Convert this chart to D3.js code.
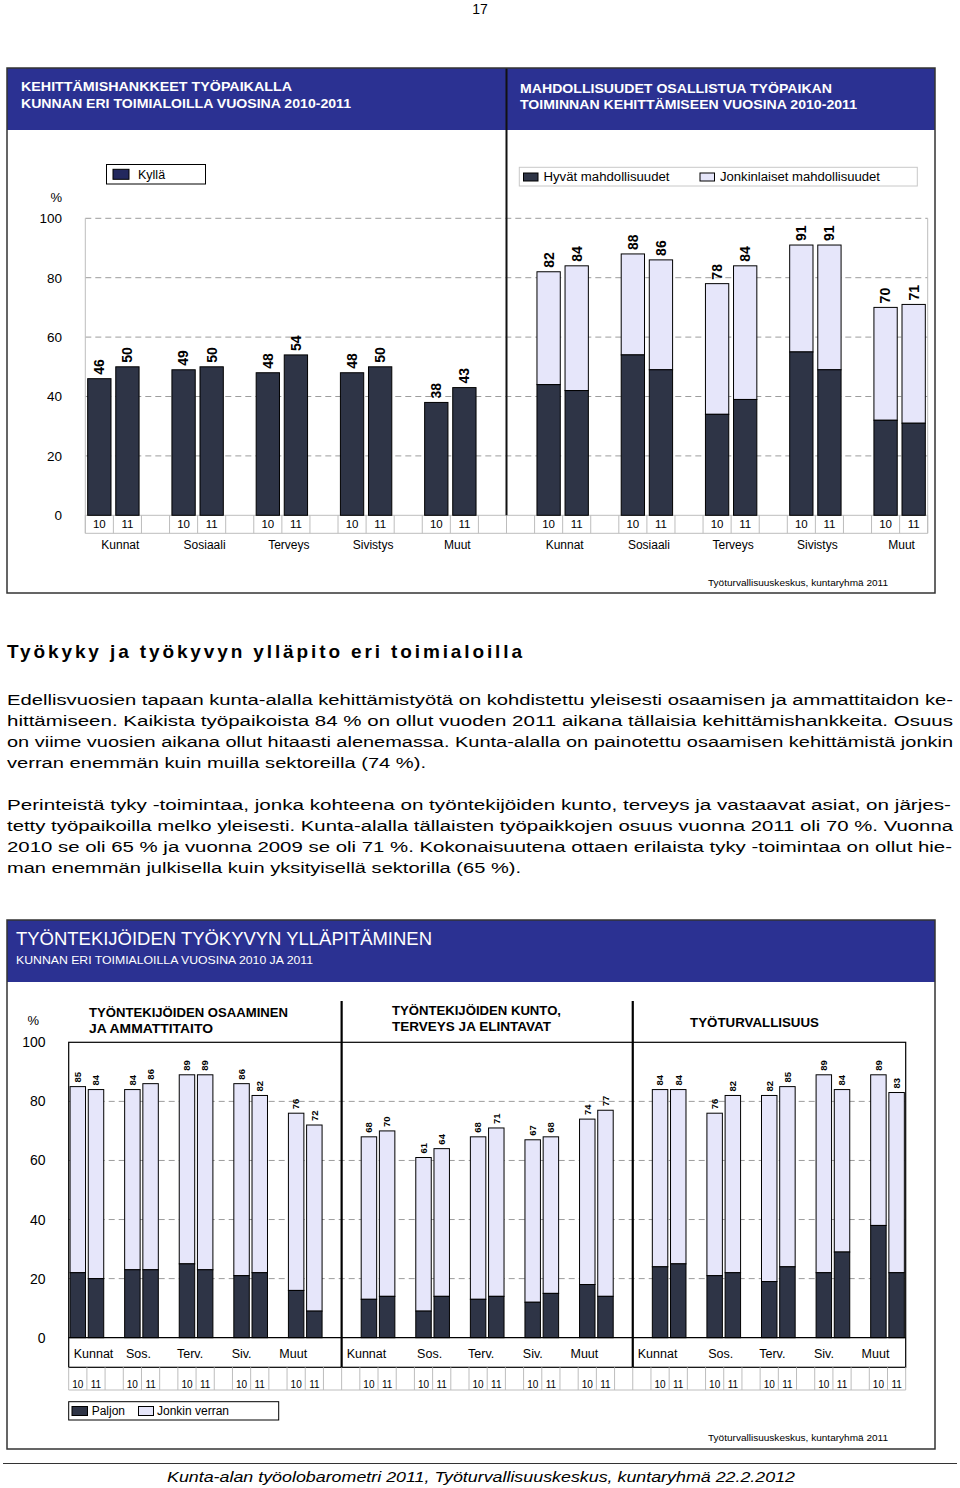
<!DOCTYPE html>
<html><head><meta charset="utf-8">
<script src="https://cdn.jsdelivr.net/npm/d3@7"></script>
<style>
body{margin:0;background:#fff}
svg{display:block}
text{font-family:"Liberation Sans",Arial,Helvetica,sans-serif}
</style>
</head><body>
<svg id="c" width="960" height="1488"></svg>
<script>
// ---------------- DATA ----------------
const topCategories = ["Kunnat","Sosiaali","Terveys","Sivistys","Muut"];
const yearLabels = ["10","11"];
const kylla2010 = [46,49,48,48,38];
const kylla2011 = [50,50,54,50,43];
const hyvat2010 = [44,54,34,55,32];
const hyvat2011 = [42,49,39,49,31];
const jonkinlaiset2010 = [38,34,44,36,38];
const jonkinlaiset2011 = [42,37,45,42,40];
const topTicks = [0,20,40,60,80,100];

const bottomCategories = ["Kunnat","Sos.","Terv.","Siv.","Muut"];
const osaaminenPaljon2010 = [22,23,25,21,16];
const osaaminenPaljon2011 = [20,23,23,22,9];
const osaaminenJonkin2010 = [63,61,64,65,60];
const osaaminenJonkin2011 = [64,63,66,60,63];
const kuntoPaljon2010 = [13,9,13,12,18];
const kuntoPaljon2011 = [14,14,14,15,14];
const kuntoJonkin2010 = [55,52,55,55,56];
const kuntoJonkin2011 = [56,50,57,53,63];
const turvaPaljon2010 = [24,21,19,22,38];
const turvaPaljon2011 = [25,22,24,29,22];
const turvaJonkin2010 = [60,55,63,67,51];
const turvaJonkin2011 = [59,60,61,55,61];
const bottomTicks = [0,20,40,60,80,100];
const panelTitles = [["TYÖNTEKIJÖIDEN OSAAMINEN","JA  AMMATTITAITO"],["TYÖNTEKIJÖIDEN KUNTO,","TERVEYS JA ELINTAVAT"],["TYÖTURVALLISUUS"]];

const paragraph1 = [
 "Edellisvuosien tapaan kunta-alalla kehittämistyötä on kohdistettu yleisesti osaamisen ja ammattitaidon ke-",
 "hittämiseen. Kaikista työpaikoista 84 % on ollut vuoden 2011 aikana tällaisia kehittämishankkeita. Osuus",
 "on viime vuosien aikana ollut hitaasti alenemassa. Kunta-alalla on painotettu osaamisen kehittämistä jonkin",
 "verran enemmän kuin muilla sektoreilla (74 %)."];
const paragraph2 = [
 "Perinteistä tyky -toimintaa, jonka kohteena on työntekijöiden kunto, terveys ja vastaavat asiat, on järjes-",
 "tetty työpaikoilla melko yleisesti. Kunta-alalla tällaisten työpaikkojen osuus vuonna 2011 oli 70 %. Vuonna",
 "2010 se oli 65 % ja vuonna 2009 se oli 71 %. Kokonaisuutena ottaen erilaista tyky -toimintaa on ollut hie-",
 "man enemmän julkisella kuin yksityisellä sektorilla (65 %)."];

// ---------------- STYLE ----------------
const DARK = "#2e3446", LIGHT = "#e6e6fa", BLUE = "#2b3192", GRID = "#9c9c9c", CELL = "#bdbdbd", KYLLA = "#22285e";
const svg = d3.select("#c");

function txt(parent, x, y, s, o = {}) {
  const t = parent.append("text").attr("x", x).attr("y", y).attr("dy", o.dy ?? "0.35em")
    .attr("font-size", o.size || 12).attr("fill", o.fill || "#000")
    .attr("text-anchor", o.anchor || "start").text(s);
  if (o.weight) t.attr("font-weight", o.weight);
  if (o.style) t.attr("font-style", o.style);
  if (o.len) t.attr("textLength", o.len).attr("lengthAdjust", o.adjust || "spacingAndGlyphs");
  return t;
}
function line(parent, x1, y1, x2, y2, stroke, w = 1, dash = null) {
  const l = parent.append("line").attr("x1", x1).attr("y1", y1).attr("x2", x2).attr("y2", y2)
    .attr("stroke", stroke).attr("stroke-width", w);
  if (dash) l.attr("stroke-dasharray", dash);
  return l;
}

txt(svg, 480, 9, "17", {size: 14, anchor: "middle"});

// ================= TOP BOX =================
const tg = svg.append("g");
tg.append("rect").attr("x", 7).attr("y", 68).attr("width", 928).attr("height", 62).attr("fill", BLUE);
txt(tg, 21, 87, "KEHITTÄMISHANKKEET  TYÖPAIKALLA", {size: 12.5, weight: "bold", fill: "#fff", len: 271});
txt(tg, 21, 104, "KUNNAN ERI TOIMIALOILLA VUOSINA 2010-2011", {size: 12.5, weight: "bold", fill: "#fff", len: 330});
txt(tg, 520, 89, "MAHDOLLISUUDET OSALLISTUA TYÖPAIKAN", {size: 12.5, weight: "bold", fill: "#fff", len: 312});
txt(tg, 520, 105, "TOIMINNAN KEHITTÄMISEEN VUOSINA 2010-2011", {size: 12.5, weight: "bold", fill: "#fff", len: 337});

const yTop = d3.scaleLinear().domain([0, 100]).range([515.3, 218.3]);
const xTop = d3.scaleBand().domain(d3.range(30)).range([85.3, 927.7]).paddingInner(0.17).paddingOuter(0.085);
const stepT = xTop.step(), x0T = xTop.range()[0];
const edgeT = i => x0T + i * stepT;
const tableBottomT = 533.3;

// gridlines
topTicks.filter(v => v > 0).forEach(v => line(tg, edgeT(0), yTop(v), edgeT(30), yTop(v), GRID, 1, "6,4"));
line(tg, edgeT(0), yTop(100), edgeT(0), tableBottomT, CELL);
line(tg, edgeT(30), yTop(100), edgeT(30), tableBottomT, CELL);
line(tg, edgeT(0), yTop(0), edgeT(30), yTop(0), CELL);
line(tg, edgeT(0), tableBottomT, edgeT(30), tableBottomT, CELL);
d3.range(31).forEach(i => line(tg, edgeT(i), yTop(0), edgeT(i), tableBottomT, CELL));

// left bars
const leftBars = [];
topCategories.forEach((c, g) => {
  leftBars.push({idx: 3 * g, v: kylla2010[g], y: 0});
  leftBars.push({idx: 3 * g + 1, v: kylla2011[g], y: 1});
});
tg.selectAll(".lb").data(leftBars).join("rect")
  .attr("x", d => xTop(d.idx)).attr("width", xTop.bandwidth())
  .attr("y", d => yTop(d.v)).attr("height", d => yTop(0) - yTop(d.v))
  .attr("fill", DARK).attr("stroke", "#000").attr("stroke-width", 1);

// right stacked bars
const rightBars = [];
topCategories.forEach((c, g) => {
  rightBars.push({idx: 15 + 3 * g + 1, a: hyvat2010[g], b: jonkinlaiset2010[g], y: 0});
  rightBars.push({idx: 15 + 3 * g + 2, a: hyvat2011[g], b: jonkinlaiset2011[g], y: 1});
});
tg.selectAll(".rbl").data(rightBars).join("rect")
  .attr("x", d => xTop(d.idx)).attr("width", xTop.bandwidth())
  .attr("y", d => yTop(d.a + d.b)).attr("height", d => yTop(d.a) - yTop(d.a + d.b))
  .attr("fill", LIGHT).attr("stroke", "#000").attr("stroke-width", 1);
tg.selectAll(".rbd").data(rightBars).join("rect")
  .attr("x", d => xTop(d.idx)).attr("width", xTop.bandwidth())
  .attr("y", d => yTop(d.a)).attr("height", d => yTop(0) - yTop(d.a))
  .attr("fill", DARK).attr("stroke", "#000").attr("stroke-width", 1);

// value labels
leftBars.forEach(d => {
  tg.append("text").attr("transform", `translate(${xTop(d.idx) + xTop.bandwidth() / 2},${yTop(d.v) - 4}) rotate(-90)`)
    .attr("dy", "0.35em").attr("font-size", 14).attr("font-weight", "bold").text(d.v);
});
rightBars.forEach(d => {
  tg.append("text").attr("transform", `translate(${xTop(d.idx) + xTop.bandwidth() / 2},${yTop(d.a + d.b) - 4}) rotate(-90)`)
    .attr("dy", "0.35em").attr("font-size", 14).attr("font-weight", "bold").text(d.a + d.b);
});

// year labels + categories
[...leftBars, ...rightBars].forEach(d => txt(tg, xTop(d.idx) + xTop.bandwidth() / 2, 524.3, yearLabels[d.y], {size: 11.5, anchor: "middle"}));
topCategories.forEach((c, g) => {
  txt(tg, edgeT(3 * g + 1) + 7, 544.3, c, {size: 12, anchor: "middle"});
  txt(tg, edgeT(15 + 3 * g + 2) + 2, 544.3, c, {size: 12, anchor: "middle"});
});

// divider
line(tg, edgeT(15), 68, edgeT(15), yTop(0), "#111", 2);

// y axis
const axT = tg.append("g").attr("transform", "translate(62,0)")
  .call(d3.axisLeft(yTop).tickValues(topTicks).tickSize(0).tickPadding(0));
axT.select(".domain").remove();
axT.selectAll("text").attr("font-size", 13.5).attr("font-family", null).attr("fill", "#000");
axT.attr("font-family", null);
txt(tg, 62, 197, "%", {size: 13, anchor: "end"});

// legends
tg.append("rect").attr("x", 106.5).attr("y", 164.5).attr("width", 99).attr("height", 19.5).attr("fill", "#fff").attr("stroke", "#000");
tg.append("rect").attr("x", 113).attr("y", 169.3).attr("width", 16).attr("height", 10).attr("fill", KYLLA).attr("stroke", "#000");
txt(tg, 138, 175, "Kyllä", {size: 12.5});

tg.append("rect").attr("x", 519.3).attr("y", 167.3).attr("width", 398).attr("height", 18.7).attr("fill", "#fff").attr("stroke", "#c8c8c8");
tg.append("rect").attr("x", 523.5).attr("y", 173).attr("width", 14.5).attr("height", 8).attr("fill", DARK).attr("stroke", "#000");
txt(tg, 543.5, 177, "Hyvät mahdollisuudet", {size: 12.5, len: 126});
tg.append("rect").attr("x", 700).attr("y", 173).attr("width", 14.5).attr("height", 8).attr("fill", LIGHT).attr("stroke", "#000");
txt(tg, 720, 177, "Jonkinlaiset mahdollisuudet", {size: 12.5, len: 160});

txt(tg, 708, 582.7, "Työturvallisuuskeskus, kuntaryhmä 2011", {size: 9.5, len: 180});

tg.append("rect").attr("x", 7).attr("y", 68).attr("width", 928).attr("height", 525)
  .attr("fill", "none").attr("stroke", "#333").attr("stroke-width", 1.5);

// ================= TEXT =================
txt(svg, 7, 651, "Työkyky ja työkyvyn ylläpito eri toimialoilla", {size: 19, weight: "bold", len: 515, adjust: "spacing"});
const lenP1 = [946, 946, 946, 419], lenP2 = [944, 946, 945, 514];
paragraph1.forEach((s, i) => txt(svg, 7, 700 + i * 21, s, {size: 15.5, len: lenP1[i], adjust: "spacingAndGlyphs"}));
paragraph2.forEach((s, i) => txt(svg, 7, 805 + i * 21, s, {size: 15.5, len: lenP2[i], adjust: "spacingAndGlyphs"}));

// ================= BOTTOM BOX =================
const bg = svg.append("g");
bg.append("rect").attr("x", 7).attr("y", 920).attr("width", 928).attr("height", 62).attr("fill", BLUE);
txt(bg, 16, 939, "TYÖNTEKIJÖIDEN  TYÖKYVYN YLLÄPITÄMINEN", {size: 18, fill: "#fff", len: 416});
txt(bg, 16, 960, "KUNNAN ERI TOIMIALOILLA VUOSINA 2010 JA 2011", {size: 11, fill: "#fff", len: 297});

const yBot = d3.scaleLinear().domain([0, 100]).range([1337.7, 1042.3]);
const xBot = d3.scaleBand().domain(d3.range(46)).range([68.7, 905.7]).paddingInner(0.15).paddingOuter(0.075);
const stepB = xBot.step(), x0B = xBot.range()[0];
const edgeB = i => x0B + i * stepB;
const labelRowBottom = 1367.3, yearRowBottom = 1390;
const panelEdges = [0, 15, 31, 46];
const panelFirst = [0, 16, 32];

bottomTicks.filter(v => v > 0 && v < 100).forEach(v => line(bg, edgeB(0), yBot(v), edgeB(46), yBot(v), GRID, 1, "6,4"));

const panels = [
  {p10: osaaminenPaljon2010, p11: osaaminenPaljon2011, j10: osaaminenJonkin2010, j11: osaaminenJonkin2011},
  {p10: kuntoPaljon2010, p11: kuntoPaljon2011, j10: kuntoJonkin2010, j11: kuntoJonkin2011},
  {p10: turvaPaljon2010, p11: turvaPaljon2011, j10: turvaJonkin2010, j11: turvaJonkin2011}
];
const botBars = [];
panels.forEach((P, pi) => {
  bottomCategories.forEach((c, g) => {
    botBars.push({idx: panelFirst[pi] + 3 * g, a: P.p10[g], b: P.j10[g], y: 0});
    botBars.push({idx: panelFirst[pi] + 3 * g + 1, a: P.p11[g], b: P.j11[g], y: 1});
  });
});
bg.selectAll(".bl").data(botBars).join("rect")
  .attr("x", d => xBot(d.idx)).attr("width", xBot.bandwidth())
  .attr("y", d => yBot(d.a + d.b)).attr("height", d => yBot(d.a) - yBot(d.a + d.b))
  .attr("fill", LIGHT).attr("stroke", "#000").attr("stroke-width", 1);
bg.selectAll(".bd").data(botBars).join("rect")
  .attr("x", d => xBot(d.idx)).attr("width", xBot.bandwidth())
  .attr("y", d => yBot(d.a)).attr("height", d => yBot(0) - yBot(d.a))
  .attr("fill", DARK).attr("stroke", "#000").attr("stroke-width", 1);
botBars.forEach(d => {
  bg.append("text").attr("transform", `translate(${xBot(d.idx) + xBot.bandwidth() / 2},${yBot(d.a + d.b) - 4}) rotate(-90)`)
    .attr("dy", "0.35em").attr("font-size", 9.5).attr("font-weight", "bold").text(d.a + d.b);
});

// frame & rows
bg.append("rect").attr("x", edgeB(0)).attr("y", yBot(100)).attr("width", edgeB(46) - edgeB(0)).attr("height", labelRowBottom - yBot(100))
  .attr("fill", "none").attr("stroke", "#000").attr("stroke-width", 1.2);
line(bg, edgeB(0), yBot(0), edgeB(46), yBot(0), "#000", 1.2);
d3.range(47).forEach(i => line(bg, edgeB(i), labelRowBottom, edgeB(i), yearRowBottom, CELL));
line(bg, edgeB(0), yearRowBottom, edgeB(46), yearRowBottom, CELL);
[15, 31].forEach(i => line(bg, edgeB(i), 1001, edgeB(i), labelRowBottom, "#000", 2.2));

botBars.forEach(d => txt(bg, xBot(d.idx) + xBot.bandwidth() / 2, 1384, yearLabels[d.y], {size: 10, anchor: "middle"}));
panels.forEach((P, pi) => {
  bottomCategories.forEach((c, g) => {
    if (g === 0) txt(bg, edgeB(panelEdges[pi]) + 5, 1354, c, {size: 12.5});
    else txt(bg, edgeB(panelFirst[pi] + 3 * g + 1) - 3 * g, 1354, c, {size: 12.5, anchor: "middle"});
  });
});

// panel titles
txt(bg, 89, 1012, panelTitles[0][0], {size: 13, weight: "bold", len: 199});
txt(bg, 89, 1028, panelTitles[0][1], {size: 13, weight: "bold", len: 124});
txt(bg, 392, 1010, panelTitles[1][0], {size: 13, weight: "bold", len: 169});
txt(bg, 392, 1026, panelTitles[1][1], {size: 13, weight: "bold", len: 159});
txt(bg, 690, 1022, panelTitles[2][0], {size: 13, weight: "bold", len: 129});

// y axis
const axB = bg.append("g").attr("transform", "translate(45.5,0)")
  .call(d3.axisLeft(yBot).tickValues(bottomTicks).tickSize(0).tickPadding(0));
axB.select(".domain").remove();
axB.attr("font-family", null);
axB.selectAll("text").attr("font-size", 14).attr("fill", "#000");
txt(bg, 39, 1020, "%", {size: 13, anchor: "end"});

// legend
bg.append("rect").attr("x", 68.7).attr("y", 1401.7).attr("width", 210).attr("height", 18.3).attr("fill", "#fff").attr("stroke", "#000");
bg.append("rect").attr("x", 72).attr("y", 1406.5).attr("width", 15.5).attr("height", 9).attr("fill", DARK).attr("stroke", "#000");
txt(bg, 91.7, 1411, "Paljon", {size: 12});
bg.append("rect").attr("x", 138.5).attr("y", 1406.5).attr("width", 15).attr("height", 9).attr("fill", LIGHT).attr("stroke", "#000");
txt(bg, 157, 1411, "Jonkin verran", {size: 12});

txt(bg, 708, 1438, "Työturvallisuuskeskus, kuntaryhmä 2011", {size: 9.5, len: 180});

bg.append("rect").attr("x", 7).attr("y", 920).attr("width", 928).attr("height", 529)
  .attr("fill", "none").attr("stroke", "#333").attr("stroke-width", 1.5);

// footer
line(svg, 3, 1463.5, 957, 1463.5, "#333", 1);
txt(svg, 481, 1477, "Kunta-alan työolobarometri 2011, Työturvallisuuskeskus, kuntaryhmä 22.2.2012", {size: 15.5, style: "italic", anchor: "middle", len: 628});
</script>
</body></html>
